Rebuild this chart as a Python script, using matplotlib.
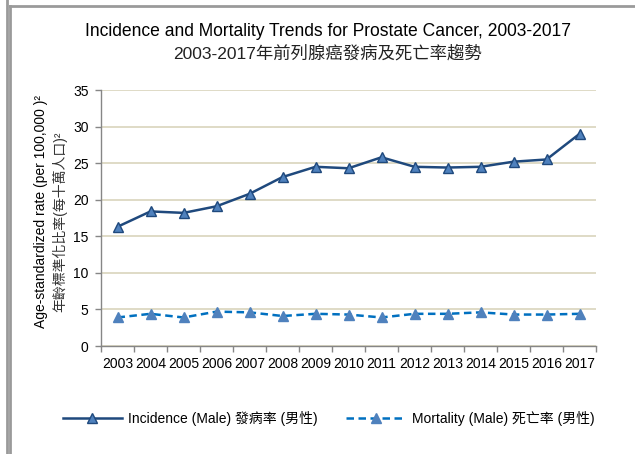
import matplotlib
matplotlib.use('Agg')
import matplotlib.pyplot as plt
from matplotlib.lines import Line2D
import numpy as np

plt.rcParams['font.family'] = ['Liberation Sans', 'Noto Sans CJK TC', 'DejaVu Sans']

# data
years = ['2003', '2004', '2005', '2006', '2007', '2008', '2009', '2010',
         '2011', '2012', '2013', '2014', '2015', '2016', '2017']
incidence = [16.3, 18.4, 18.2, 19.1, 20.8, 23.1, 24.5, 24.3, 25.8, 24.5, 24.4, 24.5, 25.2, 25.5, 29.0]
mortality = [3.9, 4.4, 3.9, 4.7, 4.6, 4.1, 4.4, 4.3, 3.9, 4.4, 4.4, 4.6, 4.3, 4.3, 4.4]
yticks = [0, 5, 10, 15, 20, 25, 30, 35]

W, H = 635, 454
fig = plt.figure(figsize=(W / 100, H / 100), dpi=100)
ax = fig.add_axes([101 / W, 1 - 346 / H, 495 / W, 256 / H])

x = np.arange(len(years))
ax.plot(x, incidence, color='#1F497D', lw=1.8, marker='^', ms=7,
        mfc='#4F81BD', mec='#1F497D', mew=1, label='Incidence (Male) 發病率 (男性)', zorder=3)
ax.plot(x, mortality, color='#0070C0', lw=1.8, ls=(0, (3, 1.8)), marker='^', ms=7,
        mfc='#4F81BD', mec='#4F81BD', mew=1, label='Mortality (Male) 死亡率 (男性)', zorder=3)

ax.set_xlim(-0.5, len(years) - 0.5)
ax.set_ylim(0, 35)
ax.set_yticks(yticks)
ax.yaxis.grid(True, color='#D9D4BC', lw=1.2)
ax.set_axisbelow(True)

ax.set_xticks(x)
ax.set_xticklabels(years, fontsize=10)
ax.set_xticks(np.arange(-0.5, len(years)), minor=True)
ax.tick_params(axis='x', which='major', length=0, pad=8)
ax.tick_params(axis='x', which='minor', length=4, color='#868686', width=1)
ax.tick_params(axis='y', length=4, color='#868686', width=1, labelsize=10, pad=5)

for s in ['top', 'right']:
    ax.spines[s].set_visible(False)
for s in ['left', 'bottom']:
    ax.spines[s].set_color('#868686')
    ax.spines[s].set_linewidth(1)

# title, two lines
fig.text(328 / W, 1 - 32 / H, 'Incidence and Mortality Trends for Prostate Cancer, 2003-2017',
         ha='center', va='center', fontsize=12.65)
fig.text(328 / W, 1 - 53 / H, '2003-2017年前列腺癌發病及死亡率趨勢',
         ha='center', va='center', fontsize=12.5, color='#222222')

# y label, two lines
fig.text(41 / W, 1 - 212 / H, 'Age-standardized rate (per 100,000 )²',
         rotation=90, ha='center', va='center', fontsize=10)
fig.text(60 / W, 1 - 222 / H, '年齡標準化比率(每十萬人口)²',
         rotation=90, ha='center', va='center', fontsize=10, color='#333333')

fig.legend(loc='center', bbox_to_anchor=(328.5 / W, 1 - 418 / H), ncol=2, frameon=False,
           fontsize=10, handlelength=4.3, columnspacing=2.0, handletextpad=0.45)

# frame lines
grey = '#9A9A9A'
fig.add_artist(Line2D([7 / W, 7 / W], [0, 1], color=grey, lw=2))
fig.add_artist(Line2D([10 / W, 10 / W], [0, 1 - 6 / H], color=grey, lw=2))
fig.add_artist(Line2D([10 / W, 1], [1 - 6 / H, 1 - 6 / H], color=grey, lw=2))

fig.savefig('out.png', dpi=100)
